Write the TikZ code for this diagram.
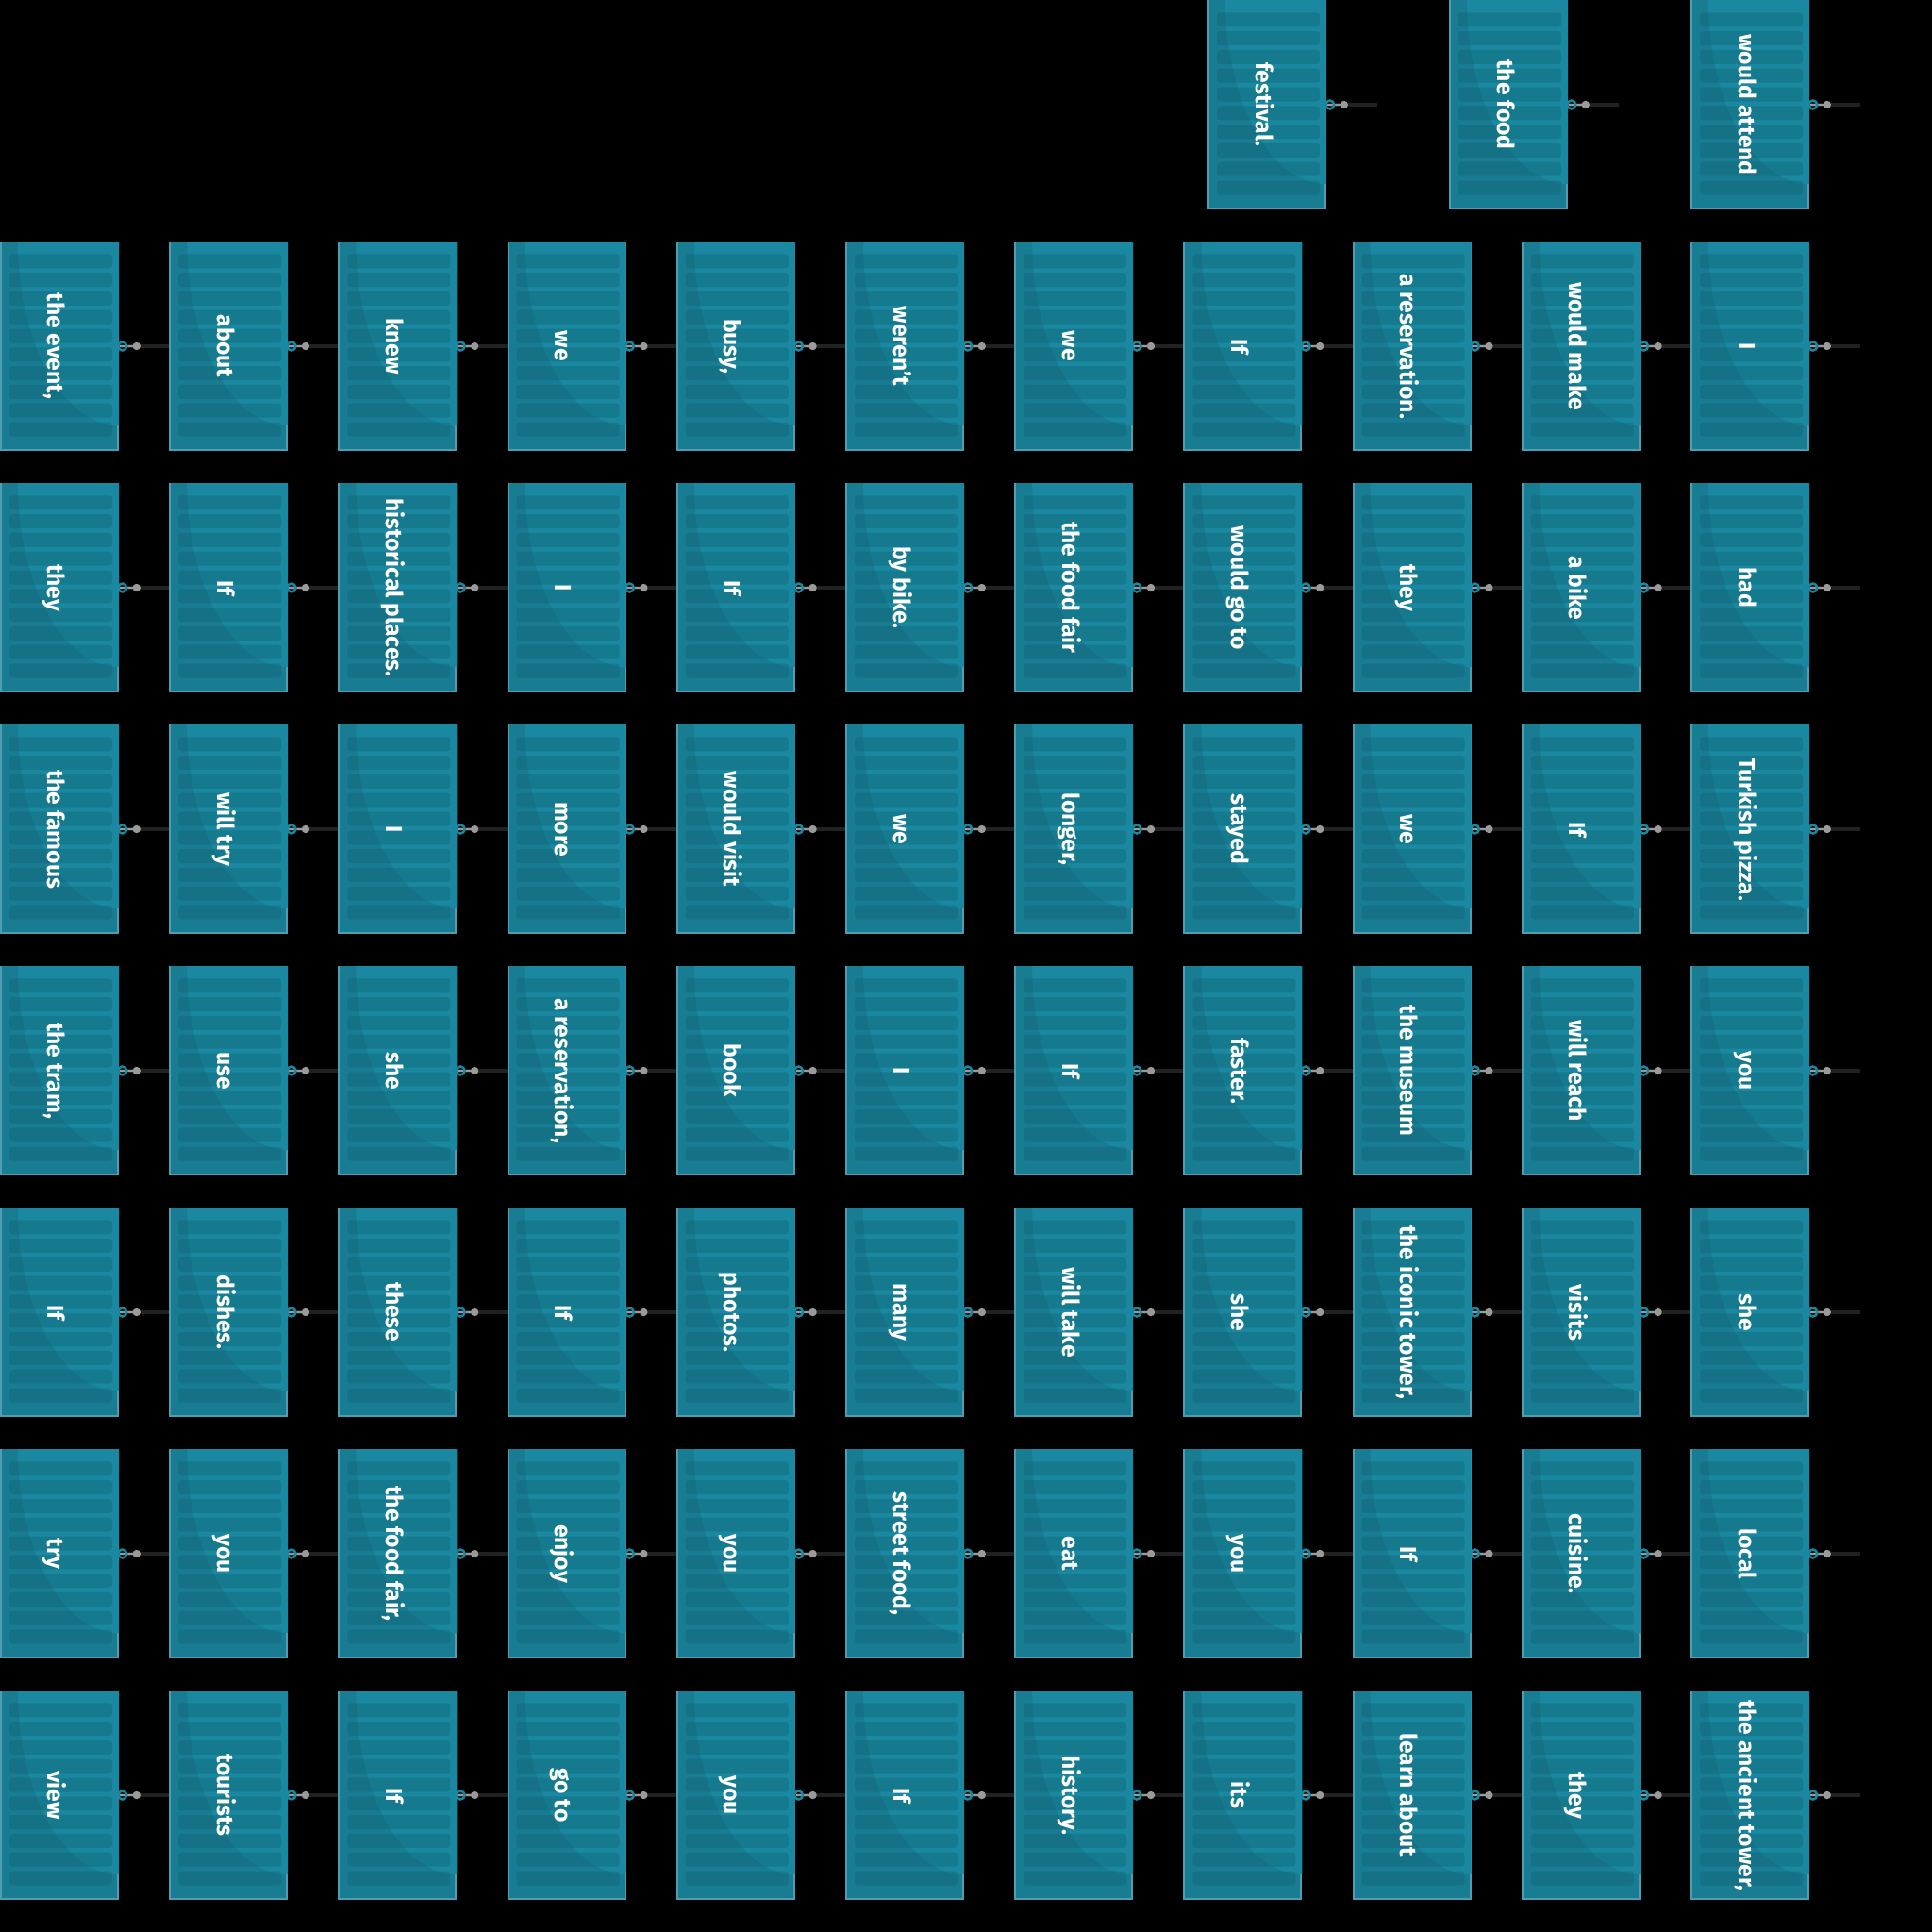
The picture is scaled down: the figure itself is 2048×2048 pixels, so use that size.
\documentclass[tikz,border=0pt]{standalone}
\usepackage{fontspec}
\setmainfont{Fira Sans}
\usetikzlibrary{positioning}
\definecolor{tealhi}{HTML}{1A88A0}
\definecolor{tealshade}{HTML}{187C93}
\definecolor{tealedge}{HTML}{4F9DB0}
\definecolor{slat}{HTML}{0E5A6A}
\definecolor{wiregray}{HTML}{222222}
\definecolor{plug}{HTML}{9A9A9A}
\tikzset{
  crate/.style={minimum width=1.26cm,minimum height=2.22cm,inner sep=0pt,
    text=white,font=\fontsize{7}{8}\selectfont\bfseries},
  slatbar/.style={slat,fill opacity=0.3,rounded corners=0.03cm},
  wire/.style={wiregray,line width=1.1pt},
  lead/.style={plug,line width=0.55pt},
  ring/.style={tealhi,line width=0.7pt},
}
% one word crate with its plug on the right
\newcommand{\crate}[4]{%
  \begin{scope}[shift={(#2-63,#3-111)}]
    \fill[tealshade] (0,0) rectangle (126,222);
    \draw[tealedge,line width=0.6pt] (1,0) -- (1,221) -- (125,221) -- (125,0);
    \fill[tealhi] (19,0) .. controls (19,108) and (67,195) .. (126,195) -- (126,0) -- cycle;
    \foreach \s in {0,...,9}
      {\fill[slatbar] (10,13.3+19.8*\s) rectangle (119,28.3+19.8*\s);}
  \end{scope}
  \node[crate] (#1) at (#2,#3) {\rotatebox{-90}{\smash{#4}\rule[-0.05cm]{0pt}{0.34cm}}};
  \coordinate[right=0.53cm of #1] (#1-end);
  \draw[wire] (#1.east) -- (#1-end);
  \draw[lead] (#1.east) -- ++(18,0);
  \draw[ring] ([xshift=0.03cm]#1.east) circle (0.045cm);
  \fill[plug] ([xshift=0.18cm]#1.east) circle (0.042cm);
}
\begin{document}
\begin{tikzpicture}[x=0.01cm,y=-0.01cm]
\fill[black] (0,0) rectangle (2048,2048);
\useasboundingbox (0,0) rectangle (2048,2048);
% top row
\crate{t1}{1343}{111}{festival.}
\crate{t2}{1599}{111}{the food}
\crate{t3}{1855}{111}{would attend}
% the grid, row by row
\foreach \c/\w in {0/{the event,},1/about,2/knew,3/we,4/{busy,},5/weren't,6/we,7/If,8/a reservation.,9/would make,10/I}
  {\crate{r1c\c}{179.2*\c+63}{367}{\w}}
\foreach \c/\w in {0/they,1/If,2/historical places.,3/I,4/If,5/by bike.,6/the food fair,7/would go to,8/they,9/a bike,10/had}
  {\crate{r2c\c}{179.2*\c+63}{623}{\w}}
\foreach \c/\w in {0/the famous,1/will try,2/I,3/more,4/would visit,5/we,6/{longer,},7/stayed,8/we,9/If,10/Turkish pizza.}
  {\crate{r3c\c}{179.2*\c+63}{879}{\w}}
\foreach \c/\w in {0/{the tram,},1/use,2/she,3/{a reservation,},4/book,5/I,6/If,7/faster.,8/the museum,9/will reach,10/you}
  {\crate{r4c\c}{179.2*\c+63}{1135}{\w}}
\foreach \c/\w in {0/If,1/dishes.,2/these,3/If,4/photos.,5/many,6/will take,7/she,8/{the iconic tower,},9/visits,10/she}
  {\crate{r5c\c}{179.2*\c+63}{1391}{\w}}
\foreach \c/\w in {0/try,1/you,2/{the food fair,},3/enjoy,4/you,5/{street food,},6/eat,7/you,8/If,9/cuisine.,10/local}
  {\crate{r6c\c}{179.2*\c+63}{1647}{\w}}
\foreach \c/\w in {0/view,1/tourists,2/If,3/go to,4/you,5/If,6/history.,7/its,8/learn about,9/they,10/{the ancient tower,}}
  {\crate{r7c\c}{179.2*\c+63}{1903}{\w}}
\end{tikzpicture}
\end{document}
